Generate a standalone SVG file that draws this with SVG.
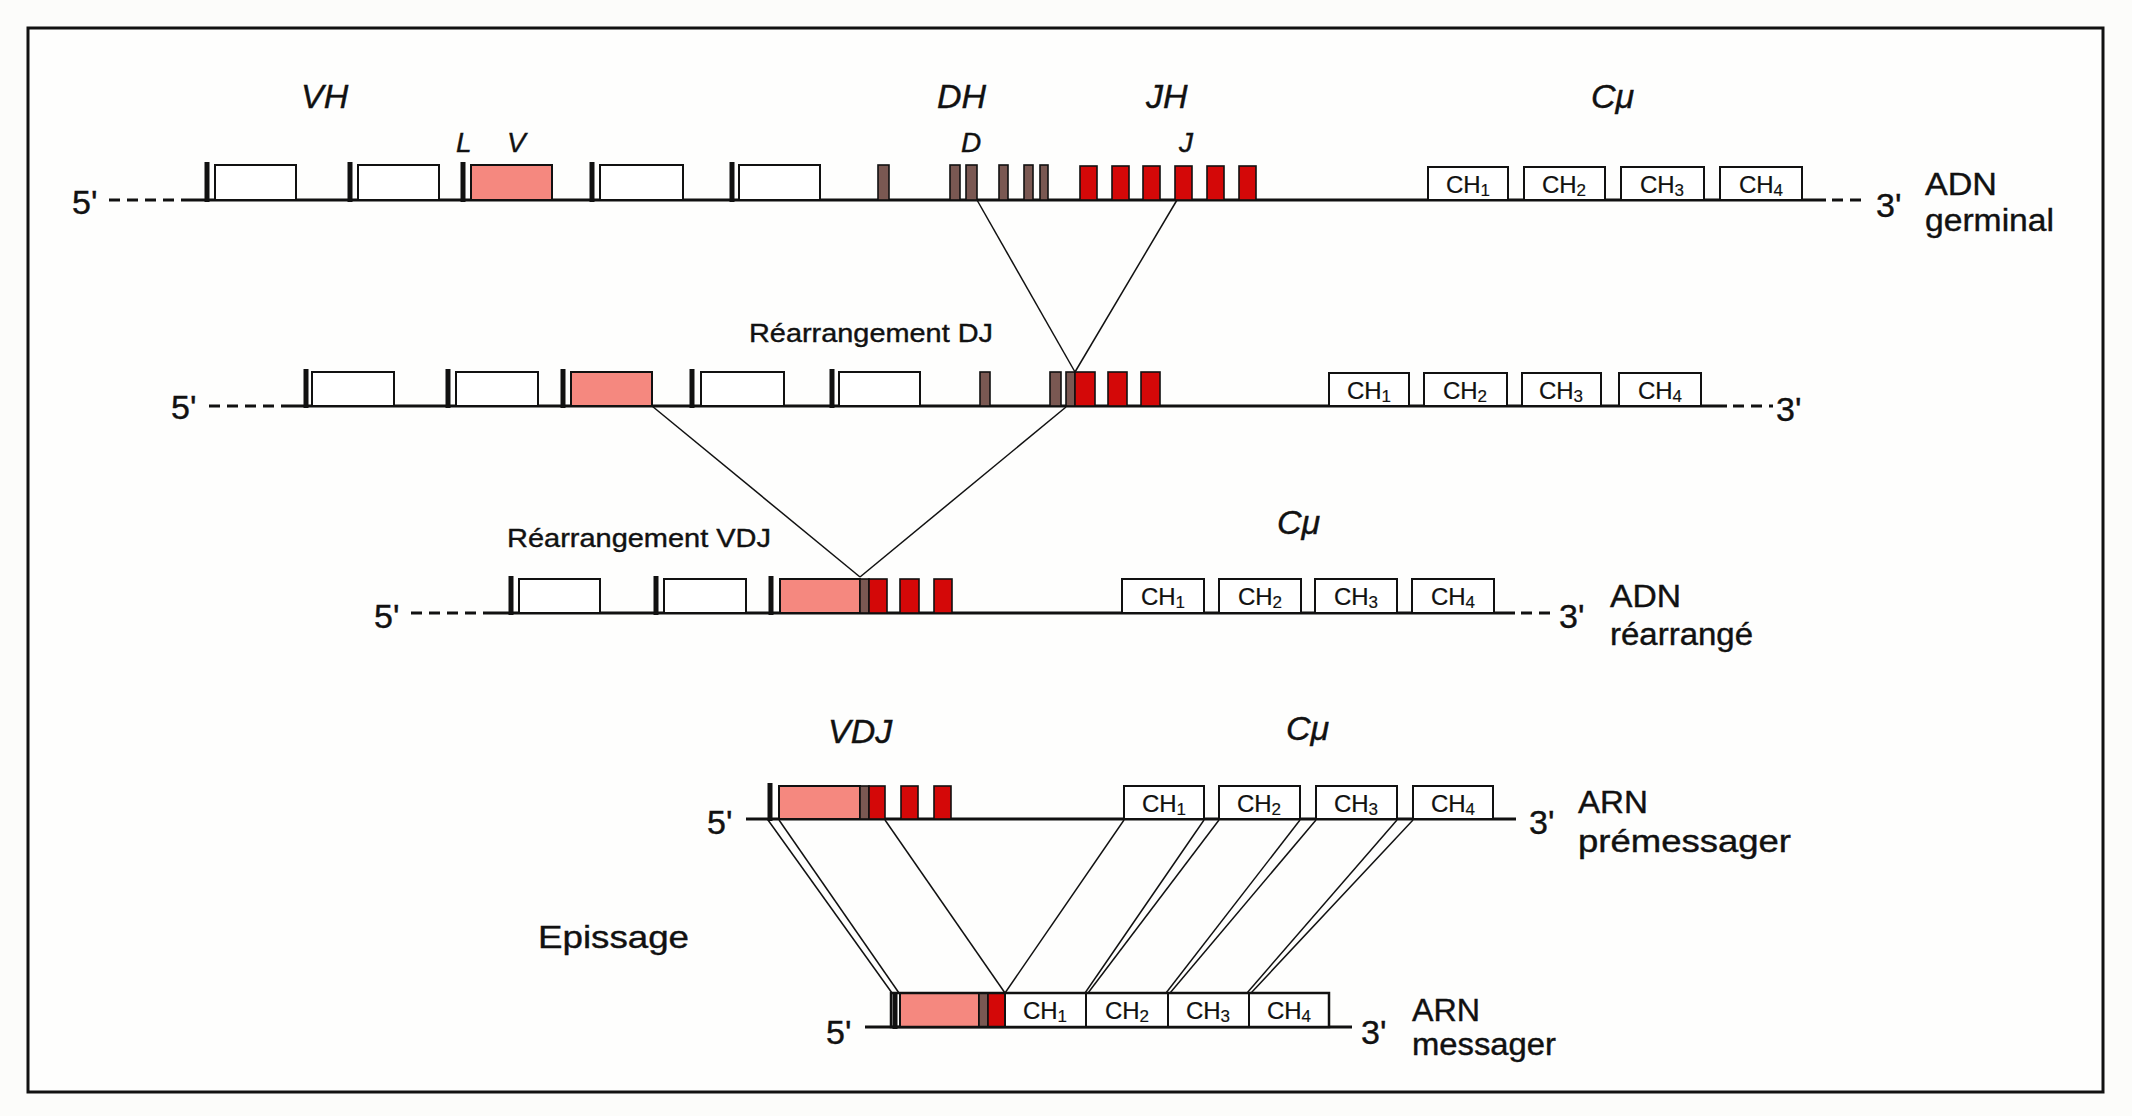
<svg xmlns="http://www.w3.org/2000/svg" width="2132" height="1116" viewBox="0 0 2132 1116">
<style>
.t{font-family:"Liberation Sans",Arial,sans-serif;fill:#111;stroke:#111;stroke-width:0.4}
.i{font-style:italic}
.lbl{font-size:34px}
.sm{font-size:28px}
.ra{font-size:26px}
.pr{font-size:34px}
.nm{font-size:31px}
.ch{font-size:24px;text-anchor:middle;stroke-width:0.2}
.sub{font-size:17px}
.base{stroke:#111;stroke-width:3;fill:none}
.dash{stroke:#111;stroke-width:3;stroke-dasharray:11 7;fill:none}
.box{fill:#fff;stroke:#111;stroke-width:2}
.pink{fill:#f5887f;stroke:#111;stroke-width:2}
.red{fill:#d40808;stroke:#111;stroke-width:1.6}
.brn{fill:#7a5852;stroke:#111;stroke-width:1.6}
.bar{stroke:#111;stroke-width:5}
.cn{stroke:#111;stroke-width:1.5;fill:none}
</style>
<rect x="0" y="0" width="2132" height="1116" fill="#fcfcfa"/>
<rect x="28" y="28" width="2075" height="1064" fill="#fefefd" stroke="#111" stroke-width="3"/>

<g id="connectors">
<line class="cn" x1="977" y1="200" x2="1075" y2="372"/>
<line class="cn" x1="1177" y1="200" x2="1075" y2="372"/>
<line class="cn" x1="652" y1="406" x2="860" y2="577"/>
<line class="cn" x1="1066" y1="407" x2="860" y2="577"/>
<line class="cn" x1="768" y1="820" x2="892" y2="993"/>
<line class="cn" x1="779" y1="820" x2="899" y2="993"/>
<line class="cn" x1="885" y1="820" x2="1005" y2="993"/>
<line class="cn" x1="1124" y1="820" x2="1005" y2="993"/>
<line class="cn" x1="1204" y1="820" x2="1085" y2="993"/>
<line class="cn" x1="1219" y1="820" x2="1088" y2="993"/>
<line class="cn" x1="1300" y1="820" x2="1166" y2="993"/>
<line class="cn" x1="1316" y1="820" x2="1170" y2="993"/>
<line class="cn" x1="1397" y1="820" x2="1247" y2="993"/>
<line class="cn" x1="1413" y1="820" x2="1251" y2="993"/>
</g>

<g id="row1-germinal">
<text class="t pr" x="72" y="214">5'</text>
<line class="dash" x1="109" y1="200" x2="185" y2="200"/>
<line class="base" x1="185" y1="200" x2="1826" y2="200"/>
<line class="dash" x1="1832" y1="200" x2="1866" y2="200"/>
<text class="t pr" x="1876" y="217">3'</text>
<text class="t nm" x="1925" y="195" textLength="72" lengthAdjust="spacingAndGlyphs">ADN</text>
<text class="t nm" x="1925" y="231" textLength="129" lengthAdjust="spacingAndGlyphs">germinal</text>
<text class="t i lbl" x="301" y="108">VH</text>
<text class="t i sm" x="456" y="152">L</text>
<text class="t i sm" x="507" y="152">V</text>
<text class="t i lbl" x="937" y="108">DH</text>
<text class="t i sm" x="961" y="152">D</text>
<text class="t i lbl" x="1146" y="108">JH</text>
<text class="t i sm" x="1179" y="152">J</text>
<text class="t i lbl" x="1591" y="108">Cμ</text>
<line class="bar" x1="207" y1="162" x2="207" y2="202"/>
<rect class="box" x="215" y="165" width="81" height="35"/>
<line class="bar" x1="350" y1="162" x2="350" y2="202"/>
<rect class="box" x="358" y="165" width="81" height="35"/>
<line class="bar" x1="463" y1="162" x2="463" y2="202"/>
<rect class="pink" x="471" y="165" width="81" height="35"/>
<line class="bar" x1="592" y1="162" x2="592" y2="202"/>
<rect class="box" x="600" y="165" width="83" height="35"/>
<line class="bar" x1="732" y1="162" x2="732" y2="202"/>
<rect class="box" x="739" y="165" width="81" height="35"/>
<rect class="brn" x="878" y="165" width="11" height="35"/>
<rect class="brn" x="950" y="165" width="10" height="35"/>
<rect class="brn" x="966" y="165" width="11" height="35"/>
<rect class="brn" x="999" y="165" width="9" height="35"/>
<rect class="brn" x="1024" y="165" width="9" height="35"/>
<rect class="brn" x="1040" y="165" width="8" height="35"/>
<rect class="red" x="1080" y="166" width="17" height="34"/>
<rect class="red" x="1112" y="166" width="17" height="34"/>
<rect class="red" x="1143" y="166" width="17" height="34"/>
<rect class="red" x="1175" y="166" width="17" height="34"/>
<rect class="red" x="1207" y="166" width="17" height="34"/>
<rect class="red" x="1239" y="166" width="17" height="34"/>
<rect class="box" x="1428" y="167" width="80" height="33"/>
<text class="t ch" x="1468" y="193">CH<tspan class="sub" dy="3">1</tspan></text>
<rect class="box" x="1524" y="167" width="81" height="33"/>
<text class="t ch" x="1564" y="193">CH<tspan class="sub" dy="3">2</tspan></text>
<rect class="box" x="1621" y="167" width="83" height="33"/>
<text class="t ch" x="1662" y="193">CH<tspan class="sub" dy="3">3</tspan></text>
<rect class="box" x="1720" y="167" width="82" height="33"/>
<text class="t ch" x="1761" y="193">CH<tspan class="sub" dy="3">4</tspan></text>
</g>

<g id="row2-dj">
<text class="t ra" x="749" y="342" textLength="244" lengthAdjust="spacingAndGlyphs">Réarrangement DJ</text>
<text class="t pr" x="171" y="419">5'</text>
<line class="dash" x1="209" y1="406" x2="282" y2="406"/>
<line class="base" x1="282" y1="406" x2="1727" y2="406"/>
<line class="dash" x1="1733" y1="406" x2="1773" y2="406"/>
<text class="t pr" x="1776" y="421">3'</text>
<line class="bar" x1="306" y1="369" x2="306" y2="408"/>
<rect class="box" x="312" y="372" width="82" height="34"/>
<line class="bar" x1="448" y1="369" x2="448" y2="408"/>
<rect class="box" x="456" y="372" width="82" height="34"/>
<line class="bar" x1="563" y1="369" x2="563" y2="408"/>
<rect class="pink" x="571" y="372" width="81" height="34"/>
<line class="bar" x1="692" y1="369" x2="692" y2="408"/>
<rect class="box" x="701" y="372" width="83" height="34"/>
<line class="bar" x1="832" y1="369" x2="832" y2="408"/>
<rect class="box" x="839" y="372" width="81" height="34"/>
<rect class="brn" x="980" y="372" width="10" height="34"/>
<rect class="brn" x="1050" y="372" width="11" height="34"/>
<rect class="brn" x="1066" y="372" width="9" height="34"/>
<rect class="red" x="1075" y="372" width="20" height="34"/>
<rect class="red" x="1108" y="372" width="19" height="34"/>
<rect class="red" x="1141" y="372" width="19" height="34"/>
<rect class="box" x="1329" y="373" width="80" height="33"/>
<text class="t ch" x="1369" y="399">CH<tspan class="sub" dy="3">1</tspan></text>
<rect class="box" x="1424" y="373" width="83" height="33"/>
<text class="t ch" x="1465" y="399">CH<tspan class="sub" dy="3">2</tspan></text>
<rect class="box" x="1522" y="373" width="79" height="33"/>
<text class="t ch" x="1561" y="399">CH<tspan class="sub" dy="3">3</tspan></text>
<rect class="box" x="1619" y="373" width="82" height="33"/>
<text class="t ch" x="1660" y="399">CH<tspan class="sub" dy="3">4</tspan></text>
</g>

<g id="row3-rearranged">
<text class="t ra" x="507" y="547" textLength="264" lengthAdjust="spacingAndGlyphs">Réarrangement VDJ</text>
<text class="t i lbl" x="1277" y="534">Cμ</text>
<text class="t pr" x="374" y="628">5'</text>
<line class="dash" x1="411" y1="613" x2="483" y2="613"/>
<line class="base" x1="483" y1="613" x2="1515" y2="613"/>
<line class="dash" x1="1521" y1="613" x2="1553" y2="613"/>
<text class="t pr" x="1559" y="628">3'</text>
<text class="t nm" x="1610" y="607" textLength="71" lengthAdjust="spacingAndGlyphs">ADN</text>
<text class="t nm" x="1610" y="645" textLength="143" lengthAdjust="spacingAndGlyphs">réarrangé</text>
<line class="bar" x1="511" y1="576" x2="511" y2="615"/>
<rect class="box" x="519" y="579" width="81" height="34"/>
<line class="bar" x1="656" y1="576" x2="656" y2="615"/>
<rect class="box" x="664" y="579" width="82" height="34"/>
<line class="bar" x1="771" y1="576" x2="771" y2="615"/>
<rect class="pink" x="780" y="579" width="80" height="34"/>
<rect class="brn" x="860" y="579" width="9" height="34"/>
<rect class="red" x="869" y="579" width="18" height="34"/>
<rect class="red" x="900" y="579" width="19" height="34"/>
<rect class="red" x="934" y="579" width="18" height="34"/>
<rect class="box" x="1122" y="579" width="82" height="34"/>
<text class="t ch" x="1163" y="605">CH<tspan class="sub" dy="3">1</tspan></text>
<rect class="box" x="1219" y="579" width="82" height="34"/>
<text class="t ch" x="1260" y="605">CH<tspan class="sub" dy="3">2</tspan></text>
<rect class="box" x="1315" y="579" width="82" height="34"/>
<text class="t ch" x="1356" y="605">CH<tspan class="sub" dy="3">3</tspan></text>
<rect class="box" x="1412" y="579" width="82" height="34"/>
<text class="t ch" x="1453" y="605">CH<tspan class="sub" dy="3">4</tspan></text>
</g>

<g id="row4-premessager">
<text class="t i lbl" x="828" y="743">VDJ</text>
<text class="t i lbl" x="1286" y="740">Cμ</text>
<text class="t pr" x="707" y="834">5'</text>
<line class="base" x1="746" y1="819" x2="1516" y2="819"/>
<text class="t pr" x="1529" y="834">3'</text>
<text class="t nm" x="1578" y="813" textLength="70" lengthAdjust="spacingAndGlyphs">ARN</text>
<text class="t nm" x="1578" y="852" textLength="213" lengthAdjust="spacingAndGlyphs">prémessager</text>
<line class="bar" x1="770" y1="783" x2="770" y2="821"/>
<rect class="pink" x="779" y="786" width="81" height="33"/>
<rect class="brn" x="860" y="786" width="9" height="33"/>
<rect class="red" x="869" y="786" width="16" height="33"/>
<rect class="red" x="901" y="786" width="17" height="33"/>
<rect class="red" x="934" y="786" width="17" height="33"/>
<rect class="box" x="1124" y="786" width="80" height="33"/>
<text class="t ch" x="1164" y="812">CH<tspan class="sub" dy="3">1</tspan></text>
<rect class="box" x="1219" y="786" width="81" height="33"/>
<text class="t ch" x="1259" y="812">CH<tspan class="sub" dy="3">2</tspan></text>
<rect class="box" x="1316" y="786" width="81" height="33"/>
<text class="t ch" x="1356" y="812">CH<tspan class="sub" dy="3">3</tspan></text>
<rect class="box" x="1413" y="786" width="80" height="33"/>
<text class="t ch" x="1453" y="812">CH<tspan class="sub" dy="3">4</tspan></text>
</g>

<g id="epissage">
<text class="t" font-size="32" x="538" y="948" textLength="151" lengthAdjust="spacingAndGlyphs">Epissage</text>
</g>

<g id="row5-messager">
<text class="t pr" x="826" y="1044">5'</text>
<line class="base" x1="865" y1="1027" x2="1352" y2="1027"/>
<text class="t pr" x="1361" y="1044">3'</text>
<text class="t nm" x="1412" y="1021" textLength="68" lengthAdjust="spacingAndGlyphs">ARN</text>
<text class="t nm" x="1412" y="1055" textLength="144" lengthAdjust="spacingAndGlyphs">messager</text>
<rect class="pink" x="900" y="993" width="79" height="34"/>
<rect class="brn" x="979" y="993" width="9" height="34"/>
<rect class="red" x="988" y="993" width="17" height="34"/>
<rect class="box" x="1005" y="993" width="81" height="34"/>
<text class="t ch" x="1045" y="1019">CH<tspan class="sub" dy="3">1</tspan></text>
<rect class="box" x="1086" y="993" width="82" height="34"/>
<text class="t ch" x="1127" y="1019">CH<tspan class="sub" dy="3">2</tspan></text>
<rect class="box" x="1168" y="993" width="81" height="34"/>
<text class="t ch" x="1208" y="1019">CH<tspan class="sub" dy="3">3</tspan></text>
<rect class="box" x="1249" y="993" width="80" height="34"/>
<text class="t ch" x="1289" y="1019">CH<tspan class="sub" dy="3">4</tspan></text>
<rect x="891" y="993" width="438" height="34" fill="none" stroke="#111" stroke-width="2.5"/>
<line class="bar" x1="895" y1="992" x2="895" y2="1029"/>
</g>
</svg>
